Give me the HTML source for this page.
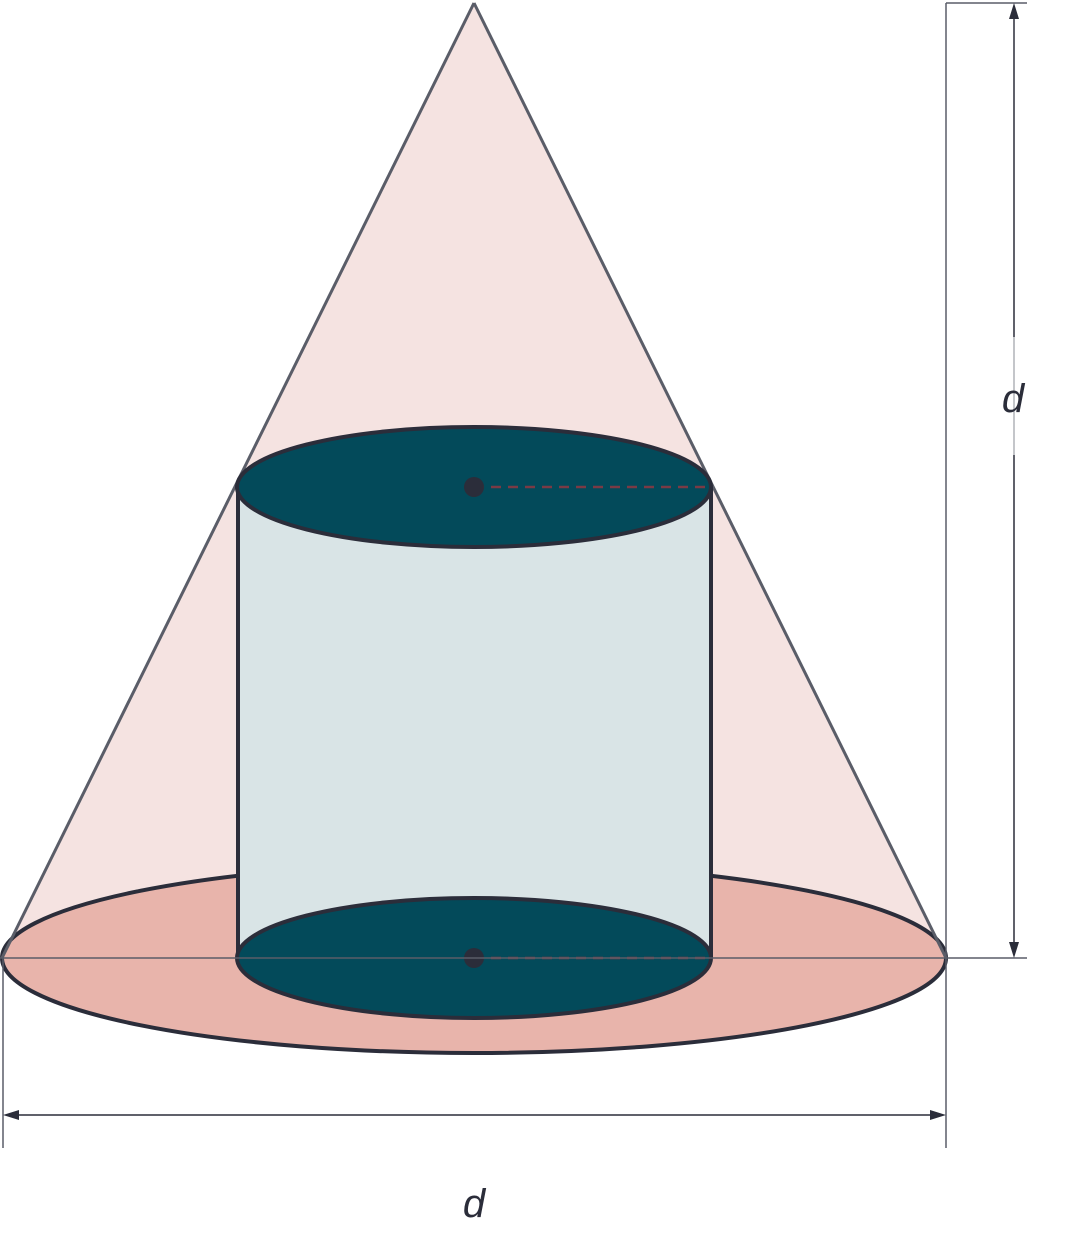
<!DOCTYPE html>
<html><head><meta charset="utf-8"><style>
html,body{margin:0;padding:0;background:#fff;width:1072px;height:1260px;overflow:hidden}
svg{display:block}
text{font-family:"Liberation Sans",sans-serif;font-style:italic;font-size:40px;fill:#2b2d3a}
</style></head><body>
<svg width="1072" height="1260" viewBox="0 0 1072 1260">
  <polygon points="474,3 2,958 946,958" fill="#f5e3e1"/>
  <ellipse cx="474" cy="958" rx="472" ry="95" fill="#e8b4ab" stroke="#2b2d3a" stroke-width="4"/>
  <line x1="474" y1="3" x2="2" y2="958" stroke="#5a5d68" stroke-width="3"/>
  <line x1="474" y1="3" x2="946" y2="958" stroke="#5a5d68" stroke-width="3"/>
  <rect x="238" y="487" width="473" height="471" fill="#d9e4e6"/>
  <line x1="238" y1="487" x2="238" y2="958" stroke="#2b2d3a" stroke-width="4"/>
  <line x1="711" y1="487" x2="711" y2="958" stroke="#2b2d3a" stroke-width="4"/>
  <ellipse cx="474" cy="958" rx="237" ry="60" fill="#034a5a" stroke="#2b2d3a" stroke-width="4"/>
  <ellipse cx="474" cy="487" rx="237" ry="60" fill="#034a5a" stroke="#2b2d3a" stroke-width="4"/>
  <line x1="474" y1="487" x2="711" y2="487" stroke="#7a3a45" stroke-width="2.5" stroke-dasharray="10,7"/>
  <line x1="474" y1="958" x2="711" y2="958" stroke="#7a3a45" stroke-width="2.5" stroke-dasharray="10,7"/>
  <circle cx="474" cy="487" r="10" fill="#2b2d3a"/>
  <circle cx="474" cy="958" r="10" fill="#2b2d3a"/>
  <line x1="0" y1="958" x2="1027" y2="958" stroke="#5a5d68" stroke-width="1.5"/>
  <line x1="946" y1="3" x2="946" y2="958" stroke="#5a5d68" stroke-width="1.5"/>
  <line x1="946" y1="3" x2="1027" y2="3" stroke="#5a5d68" stroke-width="1.5"/>
  <line x1="1014" y1="8" x2="1014" y2="337" stroke="#2b2d3a" stroke-width="1.5"/>
  <line x1="1014" y1="337" x2="1014" y2="455" stroke="#b0b2b8" stroke-width="1.5"/>
  <line x1="1014" y1="455" x2="1014" y2="953" stroke="#2b2d3a" stroke-width="1.5"/>
  <polygon points="1014,3 1009,19 1019,19" fill="#2b2d3a"/>
  <polygon points="1014,958 1009,942 1019,942" fill="#2b2d3a"/>
  <text x="1013" y="412" text-anchor="middle">d</text>
  <line x1="3" y1="958" x2="3" y2="1148" stroke="#5a5d68" stroke-width="1.5"/>
  <line x1="946" y1="958" x2="946" y2="1148" stroke="#5a5d68" stroke-width="1.5"/>
  <line x1="8" y1="1115" x2="941" y2="1115" stroke="#2b2d3a" stroke-width="1.5"/>
  <polygon points="3,1115 19,1110 19,1120" fill="#2b2d3a"/>
  <polygon points="946,1115 930,1110 930,1120" fill="#2b2d3a"/>
  <text x="474" y="1217" text-anchor="middle">d</text>
</svg>
</body></html>
